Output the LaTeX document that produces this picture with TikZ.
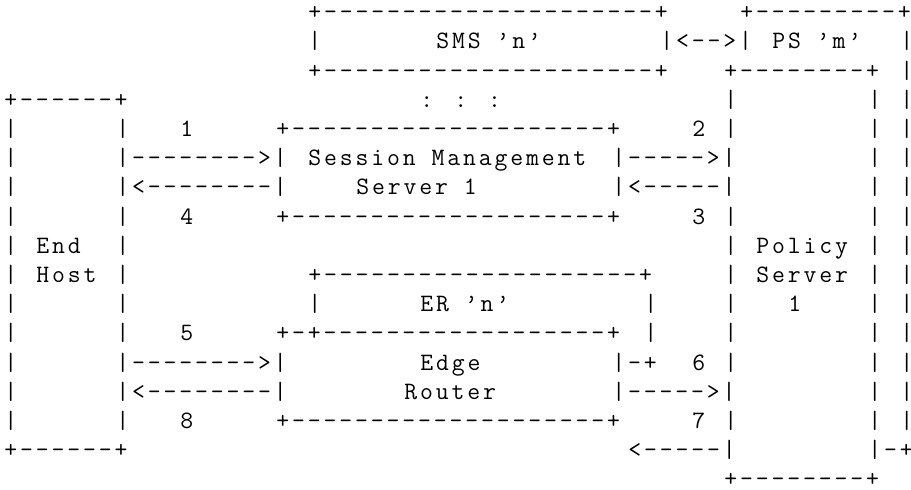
\documentclass[tikz,border=0pt]{standalone}
\usepackage{fontspec}
\newfontfamily\asciifont{Latin Modern Mono}[LetterSpace=11.5]
\tikzset{ch/.style={anchor=base west, inner sep=0pt, outer sep=0pt,
  font=\asciifont\fontsize{12.5pt}{12.5pt}\selectfont, text=black}}
% #1 name, #2 row (1..17), #3 column (0..56), #4 text
\newcommand\seg[4]{\node[ch] (#1) at ({(4.45+16*#3)*0.5pt},{-(19.8+29.2*(#2-1))*0.5pt}) {#4};}
\begin{document}
\begin{tikzpicture}
\path[fill=white] (0,0) rectangle (455.5pt,-245pt);
\useasboundingbox (0,0) rectangle (455.5pt,-245pt);
% row 1
\seg{smsTop}{1}{19}{+---------------------+}
\seg{psTop}{1}{46}{+---------+}
% row 2
\seg{smsL}{2}{19}{|}
\seg{smsLabel}{2}{27}{SMS ’n’}
\seg{smsPs}{2}{41}{|<-->|}
\seg{psLabel}{2}{48}{PS ’m’}
\seg{psR2}{2}{56}{|}
% row 3
\seg{smsBot}{3}{19}{+---------------------+}
\seg{polTop}{3}{45}{+--------+}
\seg{psR3}{3}{56}{|}
% row 4
\seg{hostTop}{4}{0}{+------+}
\seg{dots}{4}{26}{: : :}
\seg{polL4}{4}{45}{|}
\seg{polR4}{4}{54}{|}
\seg{psR4}{4}{56}{|}
% row 5
\seg{hostL5}{5}{0}{|}
\seg{hostR5}{5}{7}{|}
\seg{nOne}{5}{11}{1}
\seg{smTop}{5}{17}{+--------------------+}
\seg{nTwo}{5}{43}{2}
\seg{polL5}{5}{45}{|}
\seg{polR5}{5}{54}{|}
\seg{psR5}{5}{56}{|}
% row 6
\seg{hostL6}{6}{0}{|}
\seg{arrOne}{6}{7}{|-------->|}
\seg{smLabelA}{6}{19}{Session Management}
\seg{arrTwo}{6}{38}{|----->|}
\seg{polR6}{6}{54}{|}
\seg{psR6}{6}{56}{|}
% row 7
\seg{hostL7}{7}{0}{|}
\seg{arrFour}{7}{7}{|<--------|}
\seg{smLabelB}{7}{22}{Server 1}
\seg{arrThree}{7}{38}{|<-----|}
\seg{polR7}{7}{54}{|}
\seg{psR7}{7}{56}{|}
% row 8
\seg{hostL8}{8}{0}{|}
\seg{hostR8}{8}{7}{|}
\seg{nFour}{8}{11}{4}
\seg{smBot}{8}{17}{+--------------------+}
\seg{nThree}{8}{43}{3}
\seg{polL8}{8}{45}{|}
\seg{polR8}{8}{54}{|}
\seg{psR8}{8}{56}{|}
% row 9
\seg{hostL9}{9}{0}{|}
\seg{hostLabelA}{9}{2}{End}
\seg{hostR9}{9}{7}{|}
\seg{polL9}{9}{45}{|}
\seg{polLabelA}{9}{47}{Policy}
\seg{polR9}{9}{54}{|}
\seg{psR9}{9}{56}{|}
% row 10
\seg{hostL10}{10}{0}{|}
\seg{hostLabelB}{10}{2}{Host}
\seg{hostR10}{10}{7}{|}
\seg{erTop}{10}{19}{+--------------------+}
\seg{polL10}{10}{45}{|}
\seg{polLabelB}{10}{47}{Server}
\seg{polR10}{10}{54}{|}
\seg{psR10}{10}{56}{|}
% row 11
\seg{hostL11}{11}{0}{|}
\seg{hostR11}{11}{7}{|}
\seg{erL11}{11}{19}{|}
\seg{erLabel}{11}{26}{ER ’n’}
\seg{erR11}{11}{40}{|}
\seg{polL11}{11}{45}{|}
\seg{polLabelC}{11}{49}{1}
\seg{polR11}{11}{54}{|}
\seg{psR11}{11}{56}{|}
% row 12
\seg{hostL12}{12}{0}{|}
\seg{hostR12}{12}{7}{|}
\seg{nFive}{12}{11}{5}
\seg{edgeTop}{12}{17}{+-+------------------+}
\seg{erR12}{12}{40}{|}
\seg{polL12}{12}{45}{|}
\seg{polR12}{12}{54}{|}
\seg{psR12}{12}{56}{|}
% row 13
\seg{hostL13}{13}{0}{|}
\seg{arrFive}{13}{7}{|-------->|}
\seg{edgeLabelA}{13}{26}{Edge}
\seg{erCorner}{13}{38}{|-+}
\seg{nSix}{13}{43}{6}
\seg{polL13}{13}{45}{|}
\seg{polR13}{13}{54}{|}
\seg{psR13}{13}{56}{|}
% row 14
\seg{hostL14}{14}{0}{|}
\seg{arrEight}{14}{7}{|<--------|}
\seg{edgeLabelB}{14}{25}{Router}
\seg{arrSix}{14}{38}{|----->|}
\seg{polR14}{14}{54}{|}
\seg{psR14}{14}{56}{|}
% row 15
\seg{hostL15}{15}{0}{|}
\seg{hostR15}{15}{7}{|}
\seg{nEight}{15}{11}{8}
\seg{edgeBot}{15}{17}{+--------------------+}
\seg{nSeven}{15}{43}{7}
\seg{polL15}{15}{45}{|}
\seg{polR15}{15}{54}{|}
\seg{psR15}{15}{56}{|}
% row 16
\seg{hostBot}{16}{0}{+------+}
\seg{arrSeven}{16}{39}{<-----|}
\seg{psCorner}{16}{54}{|-+}
% row 17
\seg{polBot}{17}{45}{+--------+}
\end{tikzpicture}
\end{document}
